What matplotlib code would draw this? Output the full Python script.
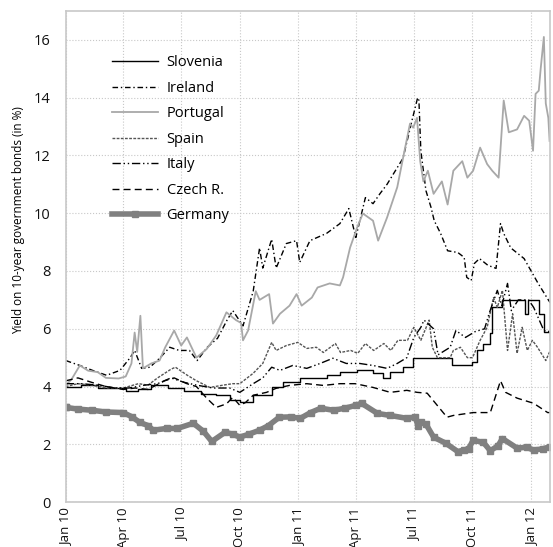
import matplotlib
matplotlib.use("Agg")
import matplotlib.pyplot as plt
import matplotlib.dates as mdates
import pandas as pd

# ---------------- data ----------------
germany_dates = ["2010-01-01","2010-01-20","2010-02-11","2010-03-05","2010-04-01","2010-04-15","2010-04-27",
    "2010-05-10","2010-05-18","2010-06-08","2010-06-25","2010-07-20","2010-08-05","2010-08-18","2010-09-08",
    "2010-09-20","2010-10-01","2010-10-15","2010-11-01","2010-11-15","2010-12-02","2010-12-20","2011-01-04",
    "2011-01-20","2011-02-05","2011-02-25","2011-03-15","2011-04-01","2011-04-10","2011-05-05","2011-05-25",
    "2011-06-20","2011-07-03","2011-07-08","2011-07-12","2011-07-20","2011-08-01","2011-08-20","2011-09-08",
    "2011-09-17","2011-09-25","2011-10-02","2011-10-18","2011-10-29","2011-11-10","2011-11-17","2011-12-10",
    "2011-12-25","2012-01-05","2012-01-20","2012-01-31"]
germany = [3.28,3.22,3.18,3.12,3.10,2.95,2.76,2.65,2.49,2.55,2.55,2.73,2.45,2.10,2.42,2.35,2.25,2.35,2.49,2.65,
    2.94,2.95,2.90,3.10,3.25,3.18,3.25,3.35,3.42,3.07,3.00,2.90,2.95,2.62,2.76,2.70,2.25,2.04,1.75,1.80,1.85,
    2.14,2.07,1.78,1.95,2.20,1.87,1.90,1.80,1.85,1.92]

portugal_dates = ["2010-01-01","2010-01-10","2010-01-23","2010-02-05","2010-02-20","2010-03-05","2010-03-25",
    "2010-04-05","2010-04-14","2010-04-19","2010-04-23","2010-04-28","2010-05-02","2010-05-15","2010-05-28",
    "2010-06-06","2010-06-20","2010-07-01","2010-07-10","2010-07-25","2010-08-10","2010-08-25","2010-09-10",
    "2010-09-25","2010-10-03","2010-10-06","2010-10-14","2010-10-26","2010-11-01","2010-11-16","2010-11-22",
    "2010-12-03","2010-12-18","2010-12-29","2011-01-06","2011-01-22","2011-01-31","2011-02-19","2011-03-07",
    "2011-03-12","2011-03-23","2011-04-03","2011-04-12","2011-04-28","2011-05-06","2011-05-20","2011-06-05",
    "2011-06-14","2011-06-25","2011-06-30","2011-07-06","2011-07-11","2011-07-16","2011-07-23","2011-08-01",
    "2011-08-14","2011-08-23","2011-09-01","2011-09-15","2011-09-23","2011-10-02","2011-10-13","2011-10-24",
    "2011-11-01","2011-11-11","2011-11-19","2011-11-27","2011-12-10","2011-12-21","2011-12-29","2012-01-04",
    "2012-01-08","2012-01-13","2012-01-16","2012-01-21","2012-01-24","2012-01-28","2012-01-30"]
portugal = [4.05,4.25,4.73,4.55,4.50,4.30,4.28,4.35,4.80,5.87,5.20,6.45,4.63,4.80,4.90,5.36,5.94,5.42,5.70,
    5.00,5.30,5.77,6.57,6.30,6.20,5.60,5.94,7.30,7.00,7.20,6.18,6.52,6.80,7.20,6.80,7.08,7.43,7.57,7.50,7.78,
    8.81,9.50,9.99,9.74,9.05,9.85,10.90,11.90,13.10,12.96,13.30,11.80,11.10,11.47,10.67,11.10,10.30,11.47,
    11.80,11.23,11.47,12.27,11.70,11.47,11.23,13.90,12.80,12.90,13.37,13.20,12.16,14.13,14.24,15.00,16.10,
    13.80,13.30,12.50]

ireland_dates = ["2010-01-01","2010-01-23","2010-02-12","2010-03-06","2010-03-27","2010-04-12","2010-04-19",
    "2010-04-30","2010-05-13","2010-05-29","2010-06-13","2010-06-28","2010-07-14","2010-07-26","2010-08-11",
    "2010-08-27","2010-09-11","2010-09-20","2010-10-06","2010-10-22","2010-11-01","2010-11-06","2010-11-20",
    "2010-11-27","2010-12-13","2010-12-29","2011-01-03","2011-01-19","2011-02-14","2011-03-07","2011-03-21",
    "2011-04-01","2011-04-16","2011-04-28","2011-05-09","2011-05-20","2011-06-02","2011-06-14","2011-06-28",
    "2011-07-07","2011-07-09","2011-07-12","2011-07-20","2011-07-28","2011-08-02","2011-08-12","2011-08-23",
    "2011-09-08","2011-09-18","2011-09-22","2011-09-29","2011-10-04","2011-10-12","2011-10-25","2011-11-07",
    "2011-11-14","2011-11-19","2011-11-30","2011-12-21","2012-01-01","2012-01-12","2012-01-28","2012-01-31"]
ireland = [4.90,4.73,4.56,4.39,4.56,5.00,5.25,4.63,4.67,5.00,5.36,5.25,5.25,4.90,5.36,5.67,6.30,6.63,6.10,
    7.30,8.80,8.10,9.10,8.10,8.95,9.05,8.30,9.05,9.30,9.64,10.16,9.16,10.54,10.33,10.68,11.00,11.47,11.90,
    13.20,14.00,13.90,12.16,10.78,10.20,9.74,9.30,8.70,8.64,8.47,7.78,7.67,8.26,8.43,8.20,8.09,9.64,9.30,
    8.80,8.43,8.00,7.57,7.00,6.90]

spain_dates = ["2010-01-01","2010-01-20","2010-02-10","2010-03-05","2010-04-01","2010-04-25","2010-05-10",
    "2010-05-25","2010-06-15","2010-06-22","2010-07-10","2010-07-25","2010-08-15","2010-09-05","2010-09-20",
    "2010-10-01","2010-10-22","2010-11-06","2010-11-20","2010-11-27","2010-12-13","2010-12-31","2011-01-14",
    "2011-01-29","2011-02-09","2011-02-28","2011-03-08","2011-03-24","2011-04-04","2011-04-16","2011-04-29",
    "2011-05-15","2011-05-26","2011-06-06","2011-06-21","2011-07-01","2011-07-12","2011-07-25","2011-07-30",
    "2011-08-07","2011-08-27","2011-09-01","2011-09-12","2011-09-23","2011-10-01","2011-10-13","2011-10-24",
    "2011-11-03","2011-11-09","2011-11-17","2011-11-25","2011-12-03","2011-12-10","2011-12-18","2011-12-26",
    "2012-01-03","2012-01-11","2012-01-24","2012-01-31"]
spain = [4.00,4.10,4.05,3.95,3.95,4.10,4.05,4.30,4.60,4.67,4.40,4.20,3.97,4.05,4.10,4.10,4.46,4.80,5.53,5.25,
    5.42,5.53,5.32,5.36,5.18,5.49,5.18,5.25,5.15,5.49,5.25,5.49,5.25,5.60,5.60,6.05,5.60,6.30,5.36,5.00,5.00,
    5.25,5.36,5.00,5.00,5.60,6.05,7.08,6.74,7.33,5.25,6.52,5.15,6.05,5.25,5.60,5.36,4.90,5.25]

italy_dates = ["2010-01-01","2010-01-25","2010-02-20","2010-03-20","2010-04-10","2010-05-05","2010-05-25",
    "2010-06-15","2010-07-05","2010-07-25","2010-08-20","2010-09-15","2010-10-01","2010-10-22","2010-11-06",
    "2010-11-20","2010-12-03","2010-12-23","2011-01-14","2011-02-04","2011-02-24","2011-03-17","2011-04-07",
    "2011-04-28","2011-05-20","2011-06-05","2011-06-20","2011-07-01","2011-07-12","2011-07-17","2011-08-01",
    "2011-08-08","2011-08-27","2011-09-05","2011-09-20","2011-10-05","2011-10-20","2011-10-27","2011-11-09",
    "2011-11-16","2011-11-25","2011-12-01","2011-12-12","2011-12-28","2012-01-05","2012-01-21","2012-01-31"]
italy = [4.10,4.10,4.05,3.95,3.95,4.05,4.10,4.30,4.15,4.05,3.95,3.95,3.80,4.10,4.30,4.67,4.56,4.73,4.63,4.80,
    4.98,4.80,4.80,4.73,4.63,4.80,5.00,5.70,6.05,6.30,6.00,5.10,5.36,5.94,5.70,5.90,6.00,6.52,7.33,6.80,7.57,
    6.63,7.00,7.00,6.74,5.94,5.90]

czech_dates = ["2010-01-01","2010-01-20","2010-02-10","2010-03-05","2010-04-01","2010-04-20","2010-05-10",
    "2010-06-05","2010-06-20","2010-07-10","2010-07-25","2010-08-10","2010-08-25","2010-09-10","2010-09-20",
    "2010-10-01","2010-10-10","2010-10-22","2010-11-12","2010-11-27","2010-12-18","2011-01-14","2011-02-09",
    "2011-03-07","2011-03-31","2011-04-28","2011-05-25","2011-06-20","2011-07-06","2011-07-22","2011-08-22",
    "2011-09-01","2011-10-02","2011-10-29","2011-11-14","2011-11-22","2011-12-10","2012-01-05","2012-01-27",
    "2012-01-31"]
czech = [4.20,4.30,4.15,4.00,3.90,3.95,3.90,4.20,4.30,4.10,4.00,3.60,3.28,3.40,3.63,3.35,3.45,3.70,3.80,3.94,
    4.04,4.10,4.04,4.10,4.10,3.97,3.80,3.87,3.80,3.77,2.94,3.00,3.10,3.10,4.20,3.80,3.60,3.42,3.10,3.10]

slovenia_dates = ["2010-01-01","2010-01-25","2010-02-20","2010-03-15","2010-04-05","2010-04-25","2010-05-15",
    "2010-06-10","2010-07-05","2010-08-01","2010-08-25","2010-09-15","2010-10-01","2010-10-22","2010-11-20",
    "2010-12-07","2011-01-03","2011-01-24","2011-02-14","2011-03-07","2011-04-03","2011-04-28","2011-05-14",
    "2011-05-25","2011-06-14","2011-06-30","2011-08-26","2011-08-30","2011-10-01","2011-10-08","2011-10-18",
    "2011-10-29","2011-11-01","2011-11-17","2011-12-20","2011-12-22","2011-12-27","2012-01-12","2012-01-14",
    "2012-01-22","2012-01-31"]
slovenia = [4.00,4.05,3.95,3.94,3.85,3.90,4.05,3.95,3.85,3.75,3.70,3.52,3.45,3.70,3.97,4.15,4.30,4.30,4.39,
    4.50,4.56,4.46,4.30,4.50,4.67,4.98,4.98,4.73,4.84,5.25,5.49,5.84,6.74,6.98,6.98,6.50,6.98,6.98,6.52,5.90,5.60]

ylabel = "Yield on 10-year government bonds (in %)"
yticks = [0, 2, 4, 6, 8, 10, 12, 14, 16]

# ---------------- plotting ----------------
plt.rcParams['font.family'] = ['Open Sans', 'DejaVu Sans']
fig = plt.figure(figsize=(5.53, 5.47), dpi=100)
ax = fig.add_axes([0.119, 0.082, 0.876, 0.898])

def d(lst):
    return pd.to_datetime(lst)

ax.plot(d(slovenia_dates), slovenia, color='black', lw=1.0, drawstyle='steps-post', label='Slovenia')
ax.plot(d(ireland_dates), ireland, color='black', lw=1.0, dashes=(4, 2, 1, 2), label='Ireland')
ax.plot(d(portugal_dates), portugal, color='#a8a8a8', lw=1.3, label='Portugal')
ax.plot(d(spain_dates), spain, color='#555555', lw=1.0, dashes=(2, 1), label='Spain')
ax.plot(d(italy_dates), italy, color='black', lw=1.0, dashes=(6, 2, 1, 2, 1, 2), label='Italy')
ax.plot(d(czech_dates), czech, color='black', lw=1.0, dashes=(5, 3), label='Czech R.')
ax.plot(d(germany_dates), germany, color='#808080', lw=4.0, marker='s', markersize=4,
        markevery=[0], label='Germany')
ax.plot(d(germany_dates), germany, color='#808080', lw=0, marker='s', markersize=4.5)

ax.set_ylim(0, 17)
ax.set_xlim(pd.Timestamp("2010-01-01"), pd.Timestamp("2012-01-31"))
ax.set_yticks(yticks)
ax.xaxis.set_major_locator(mdates.MonthLocator(bymonth=[1, 4, 7, 10]))
ax.xaxis.set_major_formatter(mdates.DateFormatter('%b %y'))
for lab in ax.get_xticklabels():
    lab.set_rotation(90)
ax.tick_params(axis='y', length=0, labelsize=10.5, colors='#111111', pad=11)
ax.tick_params(axis='x', length=0, labelsize=9.5, colors='#111111', pad=4)
ax.set_ylabel(ylabel, fontsize=8.5)
ax.yaxis.set_label_coords(-0.085, 0.575)

ax.grid(True, color='#c8c8c8', linestyle=':', linewidth=0.8)
for sp in ax.spines.values():
    sp.set_color('#c8c8c8')
    sp.set_linewidth(1.2)

leg = ax.legend(loc='upper left', bbox_to_anchor=(0.095, 0.91), borderaxespad=0, borderpad=0,
                frameon=False, fontsize=10.5, handlelength=3.2, labelspacing=0.72, handletextpad=0.55)

fig.savefig('out.png', dpi=100)
